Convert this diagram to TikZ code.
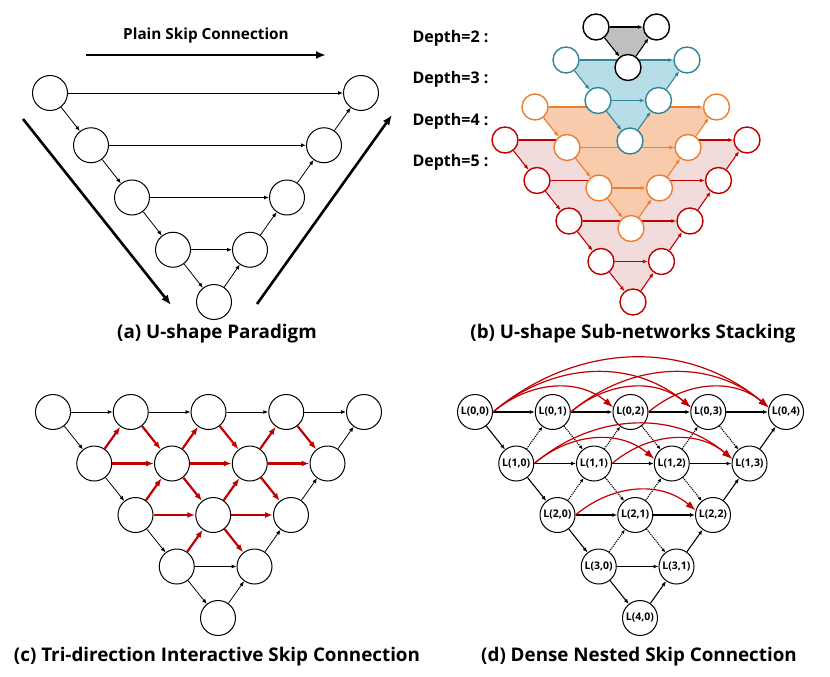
\documentclass[tikz,border=0pt]{standalone}
\usepackage{fontspec}
\setmainfont{Open Sans}
\usetikzlibrary{arrows.meta}

\definecolor{stackred}{RGB}{192,0,0}
\definecolor{stackredfill}{RGB}{242,220,219}
\definecolor{stackorange}{RGB}{237,125,49}
\definecolor{stackorangefill}{RGB}{248,203,173}
\definecolor{stackblue}{RGB}{49,133,155}
\definecolor{stackbluefill}{RGB}{183,222,232}
\definecolor{stackblack}{RGB}{0,0,0}
\definecolor{stackblackfill}{RGB}{191,191,191}
\definecolor{skipred}{RGB}{192,0,0}

\tikzset{
  unit/.style={circle, draw, fill=white, line width=1pt, minimum size=35pt, inner sep=0pt},
  stackunit/.style={circle, draw, fill=white, line width=1.4pt, minimum size=26pt, inner sep=0pt},
  flow/.style={-{Latex[length=5pt,width=4pt]}, line width=0.8pt},
  bigflow/.style={-{Latex[length=10pt,width=8pt]}, line width=2.6pt},
  triflow/.style={-{Latex[length=8pt,width=6pt]}, line width=2.2pt, skipred},
  nestflow/.style={-{Latex[length=5pt,width=4pt]}, line width=1.1pt},
  dotflow/.style={-{Latex[length=4pt,width=3.5pt]}, line width=1.1pt, densely dotted},
  denseskip/.style={-{Latex[length=10pt,width=7pt]}, line width=1.2pt, skipred},
  panelcap/.style={font=\bfseries\fontsize{18.8}{22}\selectfont},
  plaincap/.style={font=\bfseries\fontsize{15.3}{18}\selectfont},
  depthcap/.style={font=\bfseries\fontsize{16}{19}\selectfont, anchor=west},
  cellname/.style={font=\bfseries\fontsize{10.5}{12}\selectfont},
}

\begin{document}
\begin{tikzpicture}[x=1pt, y=-1pt]
        \useasboundingbox (0,0) rectangle (830,677);

        % (a) encoder and decoder units
        \foreach \i in {0,...,4}
            \node[unit] (a-l\i) at ({50+41*\i}, {93+52.25*\i}) {};
        \foreach \i in {0,...,3}
            \node[unit] (a-r\i) at ({361-37*\i}, {93+52.25*\i}) {};
        % down path, up path, plain skips
        \foreach \i [count=\j] in {0,...,3}
            \draw[flow] (a-l\i) -- (a-l\j);
        \draw[flow] (a-l4) -- (a-r3);
        \foreach \i [count=\j] in {0,...,2}
            \draw[flow] (a-r\j) -- (a-r\i);
        \foreach \i in {0,...,3}
            \draw[flow] (a-l\i) -- (a-r\i);
        % big arrows
        \node[plaincap] (plain-label) at (206,36) {Plain Skip Connection};
        \coordinate (plain-from) at (86,55);
        \coordinate (plain-to)   at (326,55);
        \coordinate (enc-from)   at (23,119);
        \coordinate (enc-to)     at (171,305);
        \coordinate (dec-from)   at (257,304);
        \coordinate (dec-to)     at (392,115);
        \draw[bigflow] (plain-from) -- (plain-to);
        \draw[bigflow] (enc-from) -- (enc-to);
        \draw[bigflow] (dec-from) -- (dec-to);
        \node[panelcap] (cap-a) at (217,334) {(a) U-shape Paradigm};

        % (b) stacked sub-networks, deepest first
        \node[depthcap] (depth-2) at (409,38)  {Depth=2 :};
        \node[depthcap] (depth-3) at (409,79)  {Depth=3 :};
        \node[depthcap] (depth-4) at (409,121) {Depth=4 :};
        \node[depthcap] (depth-5) at (409,162) {Depth=5 :};
        \foreach \d/\ty/\bx/\lc/\fc in {5/140/633/stackred/stackredfill,
                                         4/107/631/stackorange/stackorangefill,
                                         3/60/630/stackblue/stackbluefill,
                                         2/27/628/stackblack/stackblackfill}{
            \pgfmathtruncatemacro{\last}{\d-1}
            \pgfmathtruncatemacro{\prev}{\d-2}
            \fill[\fc] ({\bx-32*\last},\ty) -- ({\bx+28.5*\last},\ty)
                -- (\bx,{\ty+40.5*\last}) -- cycle;
            \foreach \k in {0,...,\prev}{
                \node[stackunit, draw=\lc] (b\d-l\k) at ({\bx-32*(\last-\k)}, {\ty+40.5*\k}) {};
                \node[stackunit, draw=\lc] (b\d-r\k) at ({\bx+28.5*(\last-\k)}, {\ty+40.5*\k}) {};
            }
            \node[stackunit, draw=\lc, alias=b\d-r\last] (b\d-l\last) at (\bx,{\ty+40.5*\last}) {};
            \foreach \k in {1,...,\last}{
                \pgfmathtruncatemacro{\j}{\k-1}
                \draw[flow, \lc, line width=1.1pt] (b\d-l\j) -- (b\d-l\k);
                \draw[flow, \lc, line width=1.1pt] (b\d-r\k) -- (b\d-r\j);
            }
            \foreach \k in {0,...,\prev}
                \draw[flow, \lc, line width=1.1pt] (b\d-l\k) -- (b\d-r\k);
        }
        \node[panelcap] (cap-b) at (633,334) {(b) U-shape Sub-networks Stacking};

        % (c) tri-direction grid
        \foreach \r in {0,...,4}{
            \pgfmathtruncatemacro{\cmax}{4-\r}
            \foreach \c in {0,...,\cmax}
                \node[unit] (c-\r\c) at ({53+41.25*\r+77.75*\c}, {412+51.5*\r}) {};
        }
        \foreach \a/\b in {00/01, 01/02, 02/03, 03/04, 00/10, 10/20, 20/30, 30/40,
                           40/31, 31/22, 22/13, 13/04, 30/31}
            \draw[flow] (c-\a) -- (c-\b);
        % interactive skips
        \foreach \a/\b in {10/11, 11/12, 12/13, 20/21, 21/22,
                           10/01, 11/02, 12/03, 20/11, 21/12, 30/21,
                           01/11, 02/12, 03/13, 11/21, 12/22, 21/31}
            \draw[triflow] (c-\a) -- (c-\b);
        \node[panelcap] (cap-c) at (217,657) {(c) Tri-direction Interactive Skip Connection};

        % (d) nested grid
        \foreach \r in {0,...,4}{
            \pgfmathtruncatemacro{\cmax}{4-\r}
            \foreach \c in {0,...,\cmax}
                \node[unit, cellname] (d-\r\c) at ({475+41.25*\r+77.75*\c}, {412+51.5*\r}) {L(\r,\c)};
        }
        \foreach \a/\b in {00/01, 01/02, 02/03, 03/04, 10/11, 11/12, 12/13, 20/21, 21/22, 30/31,
                           00/10, 10/20, 20/30, 30/40, 40/31, 31/22, 22/13, 13/04}
            \draw[nestflow] (d-\a) -- (d-\b);
        \foreach \a/\b in {10/01, 11/02, 12/03, 20/11, 21/12, 30/21,
                           01/11, 02/12, 03/13, 11/21, 12/22, 21/31}
            \draw[dotflow] (d-\a) -- (d-\b);
        % dense skips
        \foreach \a/\b in {00/02, 00/03, 00/04, 01/03, 01/04, 02/04, 10/12, 10/13, 11/13, 20/22}
            \draw[denseskip] (d-\a.east) to[out=40, in=140] (d-\b.165);
        \node[panelcap] (cap-d) at (639,657) {(d) Dense Nested Skip Connection};
    \end{tikzpicture}
\end{document}
